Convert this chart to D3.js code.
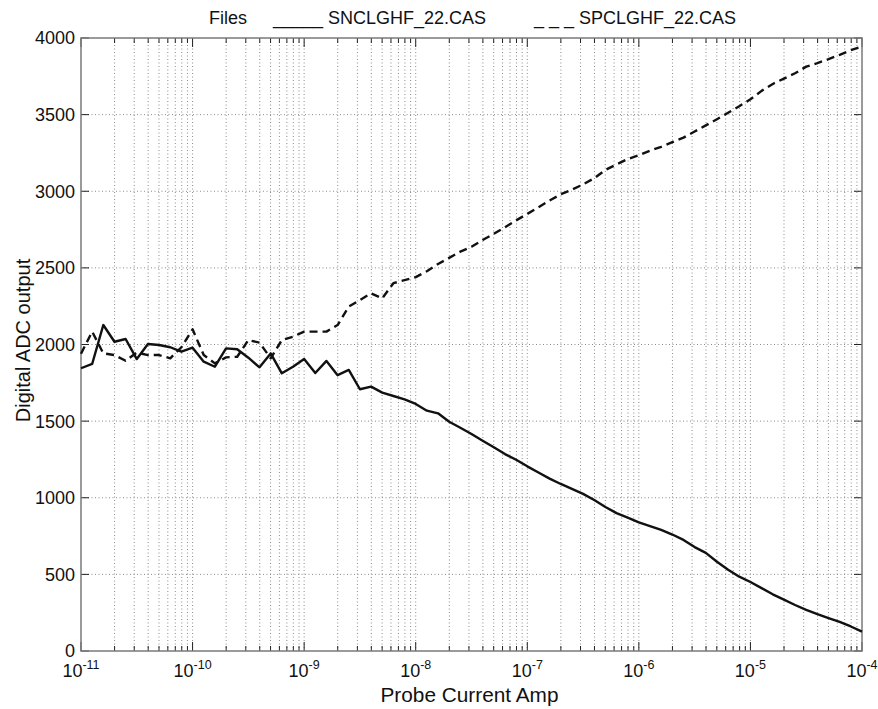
<!DOCTYPE html>
<html>
<head>
<meta charset="utf-8">
<script src="https://cdn.jsdelivr.net/npm/d3@7"></script>
<style>
  body { margin: 0; background: #fff; }
  svg { display: block; font-family: "Liberation Sans", Arial, Helvetica, sans-serif; }
</style>
</head>
<body>
<div id="chart"></div>
<script>
// log10 of probe current (A), 10 samples per decade
const logCurrent = [
  -11.0,-10.9,-10.8,-10.7,-10.6,-10.5,-10.4,-10.3,-10.2,-10.1,
  -10.0,-9.9,-9.8,-9.7,-9.6,-9.5,-9.4,-9.3,-9.2,-9.1,
  -9.0,-8.9,-8.8,-8.7,-8.6,-8.5,-8.4,-8.3,-8.2,-8.1,
  -8.0,-7.9,-7.8,-7.7,-7.6,-7.5,-7.4,-7.3,-7.2,-7.1,
  -7.0,-6.9,-6.8,-6.7,-6.6,-6.5,-6.4,-6.3,-6.2,-6.1,
  -6.0,-5.9,-5.8,-5.7,-5.6,-5.5,-5.4,-5.3,-5.2,-5.1,
  -5.0,-4.9,-4.8,-4.7,-4.6,-4.5,-4.4,-4.3,-4.2,-4.1,
  -4.0
];
// SNCLGHF_22.CAS (solid)
const sncl = [
  1845,1873,2127,2018,2036,1905,2003,1997,1982,1953,
  1979,1888,1855,1975,1969,1914,1851,1942,1812,1855,
  1905,1814,1893,1800,1834,1708,1725,1686,1664,1642,
  1612,1568,1551,1496,1457,1416,1372,1330,1285,1248,
  1205,1165,1125,1090,1058,1025,985,940,900,870,
  840,815,790,760,725,678,640,582,530,485,
  450,410,370,335,300,268,240,215,190,160,
  126
];
// SPCLGHF_22.CAS (dashed)
const spcl = [
  1940,2084,1942,1931,1894,1947,1931,1931,1910,1982,
  2099,1931,1877,1916,1920,2029,2012,1910,2029,2051,
  2084,2084,2084,2127,2247,2290,2334,2301,2400,2420,
  2440,2478,2525,2565,2606,2638,2682,2722,2765,2810,
  2852,2895,2940,2980,3010,3045,3085,3139,3175,3210,
  3235,3265,3290,3320,3350,3390,3430,3470,3512,3555,
  3600,3655,3700,3735,3770,3813,3836,3862,3890,3920,
  3945
];
const yTicks = [0,500,1000,1500,2000,2500,3000,3500,4000];
const xDecades = [-11,-10,-9,-8,-7,-6,-5,-4];
const titleParts = ["Files", "_____ SNCLGHF_22.CAS", "_ _ _ SPCLGHF_22.CAS"];
const xLabel = "Probe Current Amp";
const yLabel = "Digital ADC output";

const W = 878, H = 709;
const m = {left: 81, top: 38, right: 16, bottom: 58};
const iw = W - m.left - m.right, ih = H - m.top - m.bottom;

const svg = d3.select("#chart").append("svg").attr("width", W).attr("height", H);
const g = svg.append("g").attr("transform", `translate(${m.left},${m.top})`);

const x = d3.scaleLog().domain([1e-11, 1e-4]).range([0, iw]);
const y = d3.scaleLinear().domain([0, 4000]).range([ih, 0]);

// minor + major log positions
const xGrid = [];
xDecades.slice(0, -1).forEach(d => { for (let k = 1; k <= 9; k++) xGrid.push(k * Math.pow(10, d)); });
xGrid.push(1e-4);

const gridStyle = sel => sel.attr("stroke", "#8a8a8a").attr("stroke-width", 1).attr("stroke-dasharray", "1,2.5");

// vertical grid
g.append("g").selectAll("line").data(xGrid.filter(v => v > 1e-11 * 1.0001 && v < 1e-4 * 0.9999)).join("line")
  .attr("x1", d => x(d)).attr("x2", d => x(d)).attr("y1", 0).attr("y2", ih).call(gridStyle);
// horizontal grid
g.append("g").selectAll("line").data(yTicks.filter(v => v > 0 && v < 4000)).join("line")
  .attr("x1", 0).attr("x2", iw).attr("y1", d => y(d)).attr("y2", d => y(d)).call(gridStyle);

// ticks (inside, MATLAB style)
const tickColor = "#222";
const xIsMajor = v => Math.abs(Math.log10(v) - Math.round(Math.log10(v))) < 1e-6;
g.append("g").selectAll("line").data(xGrid).join("line")
  .attr("x1", d => x(d)).attr("x2", d => x(d)).attr("y1", ih).attr("y2", d => ih - (xIsMajor(d) ? 9 : 5))
  .attr("stroke", tickColor).attr("stroke-width", 1);
g.append("g").selectAll("line").data(xGrid).join("line")
  .attr("x1", d => x(d)).attr("x2", d => x(d)).attr("y1", 0).attr("y2", d => (xIsMajor(d) ? 9 : 5))
  .attr("stroke", tickColor).attr("stroke-width", 1);
g.append("g").selectAll("line").data(yTicks).join("line")
  .attr("x1", 0).attr("x2", 8).attr("y1", d => y(d)).attr("y2", d => y(d))
  .attr("stroke", tickColor).attr("stroke-width", 1);
g.append("g").selectAll("line").data(yTicks).join("line")
  .attr("x1", iw).attr("x2", iw - 8).attr("y1", d => y(d)).attr("y2", d => y(d))
  .attr("stroke", tickColor).attr("stroke-width", 1);

// box
g.append("rect").attr("x", 0).attr("y", 0).attr("width", iw).attr("height", ih)
  .attr("fill", "none").attr("stroke", "#7a7a7a").attr("stroke-width", 1.5);

// y tick labels
g.append("g").selectAll("text").data(yTicks).join("text")
  .attr("x", -6).attr("y", d => y(d)).attr("dy", "0.36em")
  .attr("text-anchor", "end").attr("font-size", 18).attr("fill", "#111")
  .text(d => d);

// x tick labels 10^n
const xl = g.append("g").selectAll("text").data(xDecades).join("text")
  .attr("x", d => x(Math.pow(10, d))).attr("y", ih + 26)
  .attr("text-anchor", "middle").attr("font-size", 18).attr("fill", "#111");
xl.append("tspan").text("10");
xl.append("tspan").attr("dy", -8).attr("font-size", 12.5).text(d => String(d).replace("-", "-"));

// lines
const pts = arr => arr.map((v, i) => [Math.pow(10, logCurrent[i]), v]);
const line = d3.line().x(d => x(d[0])).y(d => y(d[1]));
g.append("path").datum(pts(sncl)).attr("d", line)
  .attr("fill", "none").attr("stroke", "#111").attr("stroke-width", 2.4).attr("stroke-linejoin", "round");
g.append("path").datum(pts(spcl)).attr("d", line)
  .attr("fill", "none").attr("stroke", "#111").attr("stroke-width", 2.4)
  .attr("stroke-dasharray", "8,5").attr("stroke-linejoin", "round");

// axis labels
svg.append("text").attr("x", m.left + iw / 2 - 2).attr("y", 702)
  .attr("text-anchor", "middle").attr("font-size", 20).attr("fill", "#111")
  .attr("textLength", 178).attr("lengthAdjust", "spacingAndGlyphs").text(xLabel);
svg.append("text").attr("transform", `translate(30,${m.top + ih / 2 - 4}) rotate(-90)`)
  .attr("text-anchor", "middle").attr("font-size", 20).attr("fill", "#111")
  .text(yLabel);

// title / legend line
const titleX = [209, 273, 534];
svg.append("g").selectAll("text").data(titleParts).join("text")
  .attr("x", (d, i) => titleX[i]).attr("y", 24)
  .attr("font-size", 18).attr("fill", "#111")
  .attr("xml:space", "preserve")
  .text(d => d);
</script>
</body>
</html>
